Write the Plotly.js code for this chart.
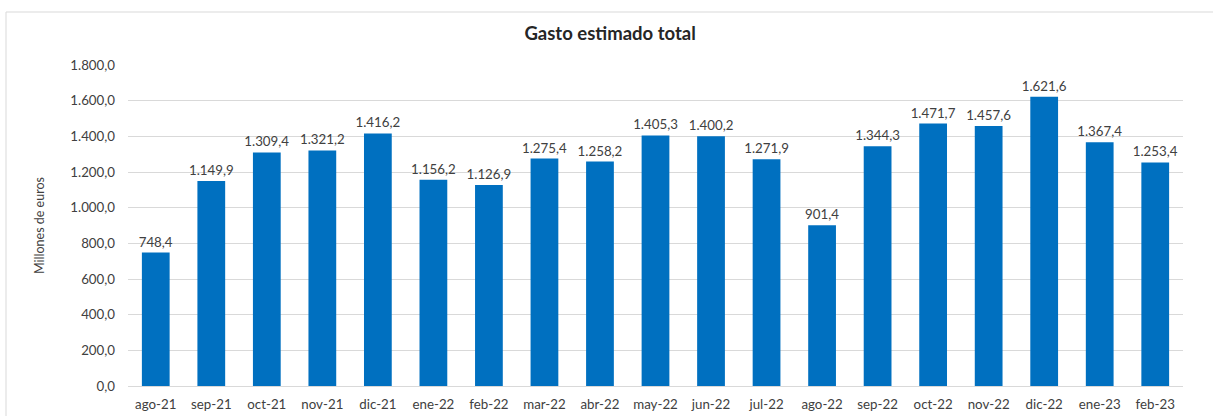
<!DOCTYPE html>
<html><head><meta charset="utf-8">
<script src="https://cdn.plot.ly/plotly-3.0.1.min.js"></script>
<style>html,body{margin:0;padding:0;background:#fff}#chart{width:1213px;height:416px}</style>
</head><body><div id="chart"></div>
<script>
const months = ["ago-21","sep-21","oct-21","nov-21","dic-21","ene-22","feb-22","mar-22","abr-22","may-22","jun-22","jul-22","ago-22","sep-22","oct-22","nov-22","dic-22","ene-23","feb-23"];
const gasto = [748.4,1149.9,1309.4,1321.2,1416.2,1156.2,1126.9,1275.4,1258.2,1405.3,1400.2,1271.9,901.4,1344.3,1471.7,1457.6,1621.6,1367.4,1253.4];
const yTicks = [0,200,400,600,800,1000,1200,1400,1600,1800];

const font = "Lato, 'Liberation Sans', sans-serif";
const trace = {
  type: "bar", x: months, y: gasto,
  marker: {color: "#0070C0"},
  texttemplate: "%{y:,.1f}", textposition: "outside", cliponaxis: false,
  constraintext: "none",
  textfont: {family: font, size: 13.3, color: "#404040"},
  hoverinfo: "skip"
};
const layout = {
  width: 1213, height: 416,
  margin: {l: 128, r: 30, t: 65, b: 30},
  separators: ",.",
  paper_bgcolor: "#fff", plot_bgcolor: "#fff",
  bargap: 0.5,
  showlegend: false,
  title: {text: "<b>Gasto estimado total</b>", x: 0.503, xref: "container", y: 0.92, yanchor: "middle",
          font: {family: font, size: 18.5, color: "#262626"}},
  xaxis: {type: "category", tickfont: {family: font, size: 13.3, color: "#404040"},
          showgrid: false, showline: false, ticks: "", ticklabelstandoff: 9, fixedrange: true},
  yaxis: {range: [0, 1800], tickvals: yTicks, tickformat: ",.1f",
          tickfont: {family: font, size: 13.3, color: "#404040"},
          showgrid: true, gridcolor: "#D9D9D9", gridwidth: 1, zeroline: true, zerolinecolor: "#D9D9D9",
          showline: false, ticks: "", ticklabelstandoff: 12,
          title: {text: "Millones de euros", font: {family: font, size: 12.5, color: "#404040"}, standoff: 22}},
  shapes: [{type: "rect", xref: "paper", yref: "paper",
            x0: (6 - 128) / 1055, x1: 1.2, y0: -0.3, y1: (386 - 12) / 321,
            line: {color: "#D9D9D9", width: 1}, fillcolor: "rgba(0,0,0,0)", layer: "below"}]
};
Plotly.newPlot("chart", [trace], layout, {displayModeBar: false, staticPlot: true});
</script></body></html>
